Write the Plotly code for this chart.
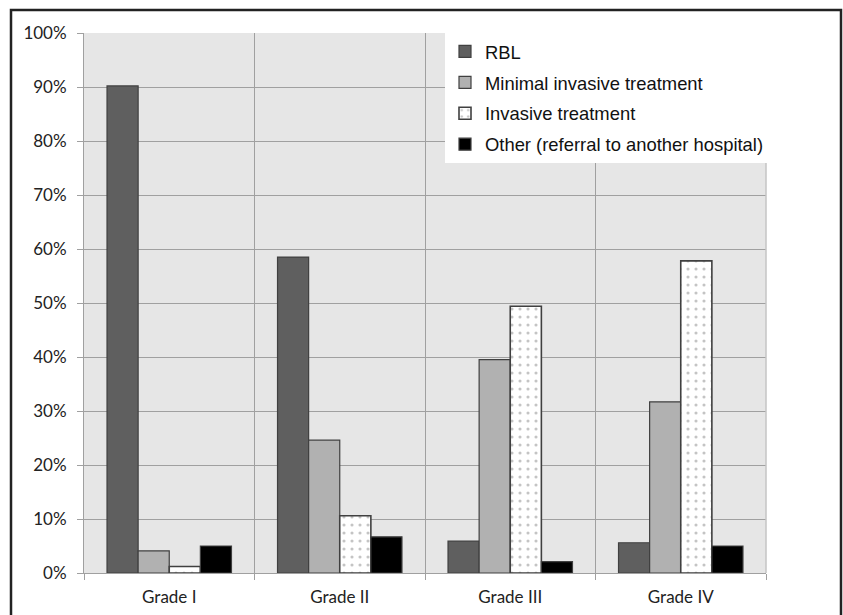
import plotly.graph_objects as go

grades = ["Grade I", "Grade II", "Grade III", "Grade IV"]
rbl = [90.2, 58.5, 5.9, 5.6]
minimal = [4.1, 24.6, 39.5, 31.7]
invasive = [1.2, 10.6, 49.4, 57.8]
other = [5.0, 6.7, 2.1, 5.0]

y_ticks = [0, 10, 20, 30, 40, 50, 60, 70, 80, 90, 100]
y_labels = [f"{v}%" for v in y_ticks]

outline = dict(color="#404040", width=1.2)

fig = go.Figure()
fig.add_trace(go.Bar(name="RBL", x=grades, y=rbl, legendgroup="a",
                     marker=dict(color="#5f5f5f", line=outline)))
fig.add_trace(go.Bar(name="Minimal invasive treatment", x=grades, y=minimal, legendgroup="b",
                     marker=dict(color="#b1b1b1", line=outline)))
fig.add_trace(go.Bar(name="Invasive treatment", x=grades, y=invasive, legendgroup="c",
                     marker=dict(color="white", line=dict(color="#404040", width=1.6),
                                 pattern=dict(shape=".", fgcolor="#8a8a8a", bgcolor="white",
                                              size=8, solidity=0.12))))
fig.add_trace(go.Bar(name="Other (referral to another hospital)", x=grades, y=other, legendgroup="d",
                     marker=dict(color="#000000", line=outline)))

fig.update_layout(
    width=843, height=615,
    margin=dict(l=84, r=77, t=33, b=42, autoexpand=False),
    paper_bgcolor="white",
    plot_bgcolor="#e6e6e6",
    barmode="group",
    bargap=0.27,
    bargroupgap=0,
    showlegend=True,
    legend=dict(
        x=(445 - 84) / 682, y=1, xanchor="left", yanchor="top",
        bgcolor="white", borderwidth=0,
        font=dict(family="Liberation Sans, Arial, sans-serif", size=18.4, color="#111111"),
        tracegroupgap=4, itemwidth=30,
    ),
    font=dict(family="Lato, Open Sans, sans-serif", size=17, color="#222222"),
    xaxis=dict(
        tickson="boundaries", ticks="outside", ticklen=6, tickcolor="#a0a0a0",
        showgrid=True, gridcolor="#a0a0a0", gridwidth=1,
        showline=True, linecolor="#a0a0a0", linewidth=1, automargin=False,
        tickfont=dict(size=17), ticklabelstandoff=9, fixedrange=True,
    ),
    yaxis=dict(
        range=[0, 100], tickvals=y_ticks, ticktext=y_labels,
        ticks="outside", ticklen=6, tickcolor="#a0a0a0",
        showgrid=True, gridcolor="#a0a0a0", gridwidth=1,
        showline=True, linecolor="#a0a0a0", linewidth=1, automargin=False,
        zeroline=False, tickfont=dict(size=17), ticklabelstandoff=7, fixedrange=True,
    ),
    shapes=[
        # light border on the right edge of the plotting area
        dict(type="line", xref="paper", yref="paper", x0=1, x1=1, y0=0, y1=1,
             line=dict(color="#c4c4c4", width=1.5)),
        # outer frame around the whole figure
        dict(type="rect", xref="paper", yref="paper",
             x0=-73 / 682, x1=(841 - 84) / 682, y0=-0.2, y1=(573 - 10) / 540,
             line=dict(color="#222222", width=2.5), layer="above"),
    ],
)

fig.write_html("out.html")
